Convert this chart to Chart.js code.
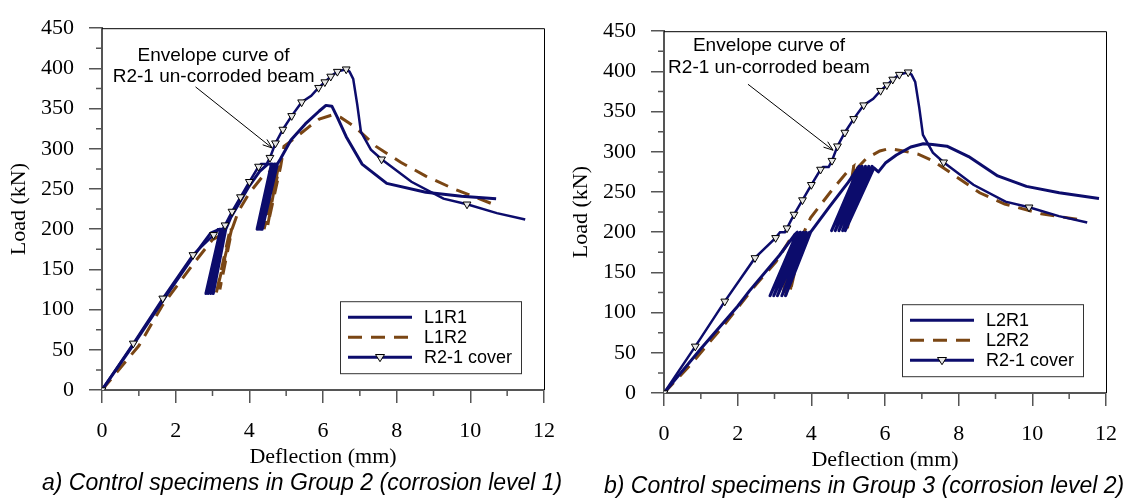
<!DOCTYPE html>
<html>
<head>
<meta charset="utf-8">
<script src="https://cdn.jsdelivr.net/npm/chart.js@4.4.1/dist/chart.umd.min.js"></script>
<style>
body { margin: 0; background: #fff; width: 1141px; height: 500px; overflow: hidden; position: relative; }
.panel { position: absolute; width: 570px; height: 500px; }
.caption { position: absolute; left: 42px; top: 469px; font: italic 23px "Liberation Sans", Arial, sans-serif; line-height: 26px; white-space: nowrap; color: #000; }
</style>
</head>
<body>
<div class="panel" style="left:0;top:0">
  <canvas id="chartA" width="570" height="500"></canvas>
  <div class="caption">a) Control specimens in Group 2 (corrosion level 1)</div>
</div>
<div class="panel" style="left:562px;top:3px">
  <canvas id="chartB" width="570" height="500"></canvas>
  <div class="caption">b) Control specimens in Group 3 (corrosion level 2)</div>
</div>
<script>
// axis ticks
var deflTicks = [0, 2, 4, 6, 8, 10, 12];
var loadTicks = [0, 50, 100, 150, 200, 250, 300, 350, 400, 450];

// R2-1 un-corroded beam envelope (same curve in both panels)
var envX = [0, 0.85, 1.65, 2.47, 3.03, 3.15, 3.28, 3.34, 3.53, 3.76, 4.0, 4.25, 4.32, 4.47, 4.56, 4.71, 4.91, 5.15, 5.42, 5.68,
            5.88, 6.05, 6.21, 6.39, 6.63, 6.72, 6.82, 6.93, 7.03, 7.3, 7.59, 8.4, 9.27, 9.91, 10.72, 11.49];
var envY = [0, 58, 114, 168, 193, 200, 200, 205, 222, 240, 259, 278, 281, 281, 289, 307, 324, 341, 358, 366,
            376, 383, 390, 396, 399, 396, 387, 355, 321, 299, 287, 259, 238, 231, 220, 212];
var envMarks = [0, 1, 2, 3, 4, 7, 8, 9, 10, 11, 14, 15, 16, 17, 18, 20, 21, 22, 23, 24, 30, 33];

// group 2
var l1r1X = [0, 0.85, 1.65, 2.46, 2.95, 3.2, 3.3, 2.82, 3.22, 2.88, 3.28, 2.95, 3.33, 3.02, 3.36, 3.5, 3.77, 4.0, 4.28, 4.5, 4.6,
             4.21, 4.62, 4.26, 4.68, 4.31, 4.73, 4.35, 4.76, 4.84, 5.13, 5.52, 5.9, 6.08, 6.24, 6.39, 6.63, 7.06, 7.73, 8.79, 9.76, 10.7];
var l1r1Y = [0, 56, 111, 165, 195, 200, 200, 120, 200, 120, 200, 120, 200, 120, 200, 215, 236, 254, 272, 281, 281,
             200, 281, 200, 281, 200, 281, 200, 281, 287, 311, 331, 347, 354, 353, 339, 315, 281, 257, 246, 241, 238];
var l1r2X = [0, 1.0, 1.65, 2.5, 3.0, 3.45, 3.52, 3.1, 3.47, 3.2, 3.53, 3.7, 4.0, 4.4, 4.75, 4.83, 4.4, 4.78, 4.5, 4.85,
             4.94, 5.23, 5.61, 5.9, 6.24, 6.48, 6.87, 7.44, 8.12, 8.79, 9.56, 10.57];
var l1r2Y = [0, 55, 106, 158, 187, 198, 200, 120, 198, 125, 200, 222, 245, 268, 276, 278, 200, 276, 205, 278,
             303, 313, 327, 337, 342, 339, 327, 303, 283, 266, 250, 232];

// group 3
var l2r1X = [0, 1.0, 2.0, 2.32, 3.13, 3.55, 3.62, 2.88, 3.7, 2.98, 3.78, 3.08, 3.86, 3.2, 3.95, 3.3, 3.98, 4.5, 5.0, 5.3,
             4.55, 5.38, 4.65, 5.47, 4.75, 5.56, 4.85, 5.65, 4.92, 5.7, 5.82, 6.01, 6.31, 6.7, 7.04, 7.29, 7.68, 8.27, 9.06, 9.84, 10.73, 11.81];
var l2r1Y = [0, 55, 108, 127, 171, 197, 200, 121, 200, 121, 200, 121, 200, 121, 200, 121, 200, 232, 262, 282,
             202, 282, 202, 282, 202, 282, 202, 282, 202, 280, 275, 286, 296, 306, 310, 309, 307, 294, 270, 257, 249, 242];
var l2r2X = [0, 0.7, 1.64, 2.5, 3.04, 3.49, 3.56, 3.22, 3.62, 3.3, 3.7, 3.42, 3.8, 3.98, 4.52, 5.01, 5.15, 4.88, 5.2, 4.98, 5.25,
             5.5, 5.86, 6.11, 6.5, 6.9, 7.29, 7.78, 8.57, 9.25, 10.24, 11.37];
var l2r2Y = [0, 34, 85, 135, 163, 196, 198, 121, 198, 121, 200, 125, 200, 218, 250, 277, 282, 202, 282, 205, 280,
             292, 301, 304, 301, 297, 289, 274, 249, 235, 223, 215];

var NAVY = '#0c0c6c';
var BROWN = '#7a4614';
var AXIS = '#555';
var SERIF = 'Liberation Serif';
var SANS = 'Liberation Sans';

function pts(xs, ys) {
  return xs.map(function (x, i) { return { x: x, y: ys[i] }; });
}

function tri(c, x, y, r) {
  c.beginPath();
  c.moveTo(x - r, y - r * 0.6);
  c.lineTo(x + r, y - r * 0.6);
  c.lineTo(x, y + r);
  c.closePath();
  c.fillStyle = '#e6e6e6';
  c.fill();
  c.strokeStyle = '#000';
  c.lineWidth = 1;
  c.stroke();
}

function makeDecor(note) {
  return {
    id: 'decor',
    afterDraw: function (chart) {
      var c = chart.ctx, a = chart.chartArea, xs = chart.scales.x, ys = chart.scales.y;
      var i, p;
      c.save();
      // frame top / right
      c.strokeStyle = '#000';
      c.lineWidth = 1;
      c.beginPath();
      c.moveTo(a.left, a.top + 0.5);
      c.lineTo(a.right + 0.5, a.top + 0.5);
      c.lineTo(a.right + 0.5, a.bottom);
      c.stroke();
      // minor ticks
      c.strokeStyle = AXIS;
      c.lineWidth = 1.5;
      c.beginPath();
      for (i = 1; i < loadTicks.length; i++) {
        p = ys.getPixelForValue((loadTicks[i] + loadTicks[i - 1]) / 2);
        c.moveTo(a.left, p); c.lineTo(a.left - 6, p);
      }
      for (i = 1; i < deflTicks.length; i++) {
        p = xs.getPixelForValue((deflTicks[i] + deflTicks[i - 1]) / 2);
        c.moveTo(p, a.bottom); c.lineTo(p, a.bottom + 6);
      }
      c.stroke();

      // annotation
      c.fillStyle = '#000';
      c.font = '19px "' + SANS + '"';
      c.textAlign = 'center';
      c.textBaseline = 'middle';
      c.fillText('Envelope curve of', xs.getPixelForValue(note.tx), ys.getPixelForValue(note.ty[0]));
      c.fillText('R2-1 un-corroded beam', xs.getPixelForValue(note.tx), ys.getPixelForValue(note.ty[1]));
      var x1 = xs.getPixelForValue(note.from[0]), y1 = ys.getPixelForValue(note.from[1]);
      var x2 = xs.getPixelForValue(note.to[0]), y2 = ys.getPixelForValue(note.to[1]);
      var ang = Math.atan2(y2 - y1, x2 - x1);
      c.strokeStyle = '#000';
      c.lineWidth = 1;
      c.beginPath();
      c.moveTo(x1, y1); c.lineTo(x2, y2);
      c.moveTo(x2 - 10 * Math.cos(ang - 0.35), y2 - 10 * Math.sin(ang - 0.35));
      c.lineTo(x2, y2);
      c.lineTo(x2 - 10 * Math.cos(ang + 0.35), y2 - 10 * Math.sin(ang + 0.35));
      c.stroke();

      // legend
      var ds = chart.data.datasets;
      var bx = a.right - 204, by = a.top + 273, bw = 181, bh = 72;
      c.fillStyle = '#fff';
      c.fillRect(bx, by, bw, bh);
      c.strokeStyle = '#333';
      c.lineWidth = 1;
      c.strokeRect(bx + 0.5, by + 0.5, bw, bh);
      var rows = [ds[1], ds[2], ds[0]];
      c.font = '18px "' + SANS + '"';
      c.textAlign = 'left';
      rows.forEach(function (d, k) {
        var ry = by + 16 + k * 20;
        c.strokeStyle = d.borderColor;
        c.lineWidth = 3;
        c.setLineDash(d.borderDash || []);
        c.beginPath();
        c.moveTo(bx + 8, ry); c.lineTo(bx + 72, ry);
        c.stroke();
        c.setLineDash([]);
        if (k === 2) tri(c, bx + 40, ry, 4.5);
        c.fillStyle = '#000';
        c.fillText(d.label, bx + 84, ry + 1);
      });
      c.restore();
    }
  };
}

function makeChart(id, names, s1x, s1y, s2x, s2y, note) {
  return new Chart(document.getElementById(id), {
    type: 'scatter',
    data: {
      datasets: [
        {
          label: 'R2-1 cover', data: pts(envX, envY), showLine: true, tension: 0,
          borderColor: NAVY, borderWidth: 2.5, order: 0,
          pointStyle: 'triangle', rotation: 180,
          pointRadius: function (ctx) { return envMarks.indexOf(ctx.dataIndex) >= 0 ? 4.5 : 0; },
          pointBackgroundColor: '#e6e6e6', pointBorderColor: '#000', pointBorderWidth: 1
        },
        {
          label: names[0], data: pts(s1x, s1y), showLine: true, tension: 0,
          borderColor: NAVY, borderWidth: 3, borderJoinStyle: 'round', pointRadius: 0, order: 1
        },
        {
          label: names[1], data: pts(s2x, s2y), showLine: true, tension: 0,
          borderColor: BROWN, borderWidth: 3, borderDash: [14, 9], pointRadius: 0, order: 2
        }
      ]
    },
    options: {
      responsive: false,
      animation: false,
      devicePixelRatio: 1,
      layout: { padding: { top: 19, right: 23, left: 0, bottom: 0 } },
      plugins: { legend: { display: false }, tooltip: { enabled: false } },
      scales: {
        x: {
          type: 'linear', min: 0, max: 12,
          afterBuildTicks: function (s) { s.ticks = deflTicks.map(function (v) { return { value: v }; }); },
          afterFit: function (s) { s.height = 110; },
          ticks: { font: { family: SERIF, size: 22 }, color: '#000', padding: 15, maxRotation: 0, autoSkip: false },
          grid: { drawOnChartArea: false, tickLength: 13, color: AXIS, lineWidth: 1.5 },
          border: { color: AXIS, width: 2 },
          title: { display: true, text: 'Deflection (mm)', color: '#000', font: { family: SERIF, size: 22 }, padding: { top: 0, bottom: 30 } }
        },
        y: {
          type: 'linear', min: 0, max: 450,
          afterBuildTicks: function (s) { s.ticks = loadTicks.map(function (v) { return { value: v }; }); },
          afterFit: function (s) { s.width = 102; },
          ticks: { font: { family: SERIF, size: 22 }, color: '#000', padding: 15, autoSkip: false },
          grid: { drawOnChartArea: false, tickLength: 13, color: AXIS, lineWidth: 1.5 },
          border: { color: AXIS, width: 2 },
          title: { display: true, text: 'Load (kN)', color: '#000', font: { family: SERIF, size: 22 }, padding: { top: 6, bottom: 0 } }
        }
      }
    },
    plugins: [makeDecor(note)]
  });
}

makeChart('chartA', ['L1R1', 'L1R2'], l1r1X, l1r1Y, l1r2X, l1r2Y,
  { tx: 3.03, ty: [416, 390], from: [2.54, 377], to: [4.62, 301] });
makeChart('chartB', ['L2R1', 'L2R2'], l2r1X, l2r1Y, l2r2X, l2r2Y,
  { tx: 2.85, ty: [432, 405], from: [2.28, 384], to: [4.59, 302] });
</script>
</body>
</html>
